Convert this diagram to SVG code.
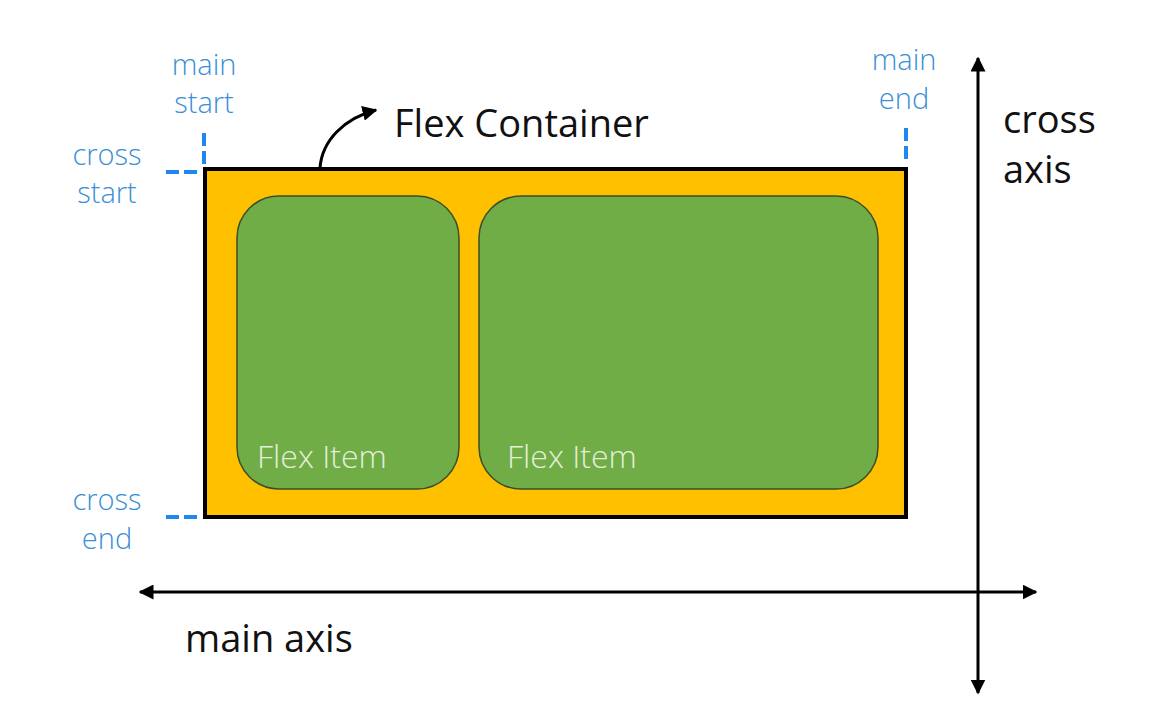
<svg xmlns="http://www.w3.org/2000/svg" width="1160" height="710" viewBox="0 0 1160 710">
<defs>
<style>
.lbl{font-family:"Open Sans","Noto Sans","Liberation Sans",sans-serif;fill:#3A8FD6;font-size:29px;text-anchor:middle;font-weight:300}
.big{font-family:"Open Sans","Noto Sans","Liberation Sans",sans-serif;fill:#111;font-size:38px}
.item{fill:#70AD47;stroke:#3B4E2A;stroke-width:1.5}
.itxt{font-family:"Open Sans","Noto Sans","Liberation Sans",sans-serif;fill:#E4EEDB;font-size:32px;font-weight:300}
.dash{stroke:#1E88F0;stroke-width:4;stroke-dasharray:13 5;fill:none}
.axis{stroke:#000;stroke-width:3;fill:none}
</style>
<marker id="ah" viewBox="0 0 10 10" refX="9" refY="5" markerWidth="5" markerHeight="5" orient="auto-start-reverse" markerUnits="strokeWidth">
<path d="M0,0 L10,5 L0,10 z" fill="#000"/>
</marker>
</defs>
<rect width="1160" height="710" fill="#fff"/>
<g id="container">
<rect x="205" y="169" width="701" height="348" fill="#FFC000" stroke="#000" stroke-width="4"/>
</g>
<g id="item1">
<rect class="item" x="237" y="196" width="222" height="293" rx="42" ry="42"/>
<text class="itxt" x="257" y="468">Flex Item</text>
</g>
<g id="item2">
<rect class="item" x="479" y="196" width="399" height="293" rx="42" ry="42"/>
<text class="itxt" x="507" y="468">Flex Item</text>
</g>
<g id="connectors">
<line class="dash" x1="204" y1="133" x2="204" y2="166"/>
<line class="dash" x1="166" y1="172" x2="199" y2="172"/>
<line class="dash" x1="166" y1="517" x2="199" y2="517"/>
<line class="dash" x1="906" y1="128" x2="906" y2="162"/>
<line class="axis" x1="140" y1="592" x2="1036" y2="592" marker-start="url(#ah)" marker-end="url(#ah)"/>
<line class="axis" x1="978" y1="58" x2="978" y2="693" marker-start="url(#ah)" marker-end="url(#ah)"/>
<path d="M320,168 C322,140 345,118 376,110" stroke="#000" stroke-width="3" fill="none" marker-end="url(#ah)"/>
</g>
<g id="labels">
<text class="lbl" x="204" y="75">main</text>
<text class="lbl" x="204" y="113">start</text>
<text class="lbl" x="904" y="70">main</text>
<text class="lbl" x="904" y="109">end</text>
<text class="lbl" x="107" y="165">cross</text>
<text class="lbl" x="107" y="203">start</text>
<text class="lbl" x="107" y="510">cross</text>
<text class="lbl" x="107" y="549">end</text>
<text class="big" x="394" y="137" font-size="36">Flex Container</text>
<text class="big" x="1003" y="133">cross</text>
<text class="big" x="1003" y="183">axis</text>
<text class="big" x="185" y="652">main axis</text>
</g>
</svg>
